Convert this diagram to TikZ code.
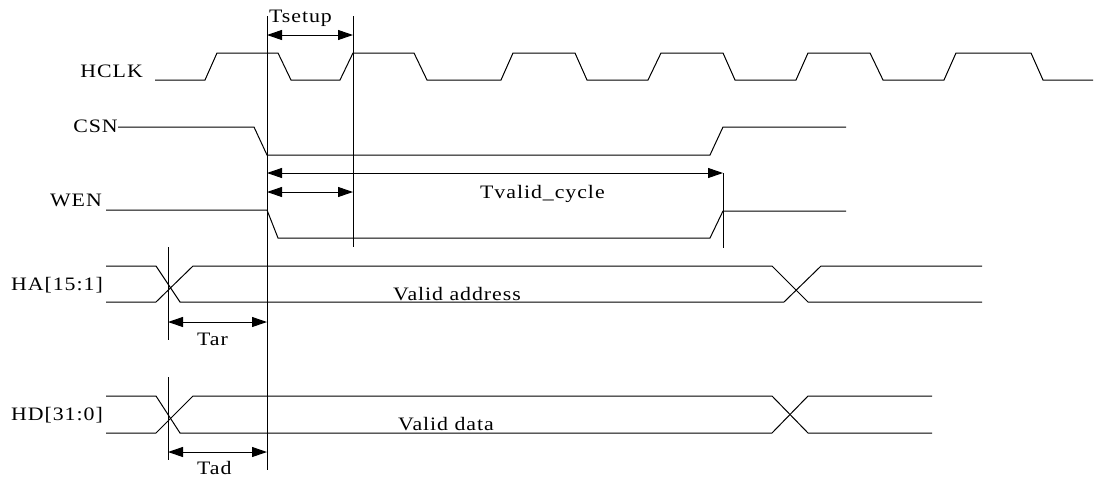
\documentclass[tikz,border=0pt]{standalone}
\usepackage{fontspec}
\setmainfont{Liberation Serif}[LetterSpace=5, FakeStretch=1.15]
\usetikzlibrary{arrows.meta, positioning}

\tikzstyle{Signal} = [line width=1pt, line join=miter]
\tikzstyle{Marker} = [line width=1pt]
\tikzstyle{Span} = [
line width=1pt,
{Triangle[length=15pt,width=10pt]}-{Triangle[length=15pt,width=10pt]}]
\tikzstyle{Name} = [font=\fontsize{19}{21}\selectfont, inner sep=0pt]

\begin{document}
\begin{tikzpicture}[x=1pt, y=-1pt]
    \useasboundingbox (0,0) rectangle (1094,480);

    % signal names
    \node[Name, anchor=base east] (hclk) at (143,77) {HCLK};
    \node[Name, anchor=base east] (csn) at (118,132) {CSN};
    \node[Name, anchor=base east] (wen) at (102,206) {WEN};
    \node[Name, anchor=base east] (ha) at (103,290) {HA[15:1]};
    \node[Name, anchor=base east] (hd) at (103,420) {HD[31:0]};

    % waveforms
    \draw[Signal] (155,80) -- (205,80) -- (217,53) -- (278,53) -- (291,80)
        -- (340,80) -- (353,53) -- (414,53) -- (427,80) -- (501,80)
        -- (513,53) -- (575,53) -- (587,80) -- (648,80) -- (661,53)
        -- (723,53) -- (735,80) -- (796,80) -- (808,53) -- (870,53)
        -- (883,80) -- (944,80) -- (956,53) -- (1031,53) -- (1043,80)
        -- (1093,80);
    \draw[Signal] (118,127) -- (254,127) -- (267,155) -- (710,155)
        -- (723,127) -- (846,127);
    \draw[Signal] (106,210) -- (267,210) -- (278,238) -- (710,238)
        -- (723,211) -- (846,211);
    \draw[Signal] (106,266) -- (156,266) -- (180,302) -- (784,302)
        -- (821,266) -- (982,266);
    \draw[Signal] (106,302) -- (156,302) -- (193,266) -- (772,266)
        -- (808,302) -- (982,302);
    \draw[Signal] (106,396) -- (156,396) -- (180,433) -- (772,433)
        -- (808,396) -- (932,396);
    \draw[Signal] (106,433) -- (156,433) -- (193,396) -- (772,396)
        -- (808,433) -- (932,433);

    % marker lines
    \coordinate (mainTop) at (267,16);
    \coordinate (mainBot) at (267,470);
    \coordinate (edgeTop) at (353,16);
    \coordinate (edgeBot) at (353,247);
    \coordinate (endTop) at (723,173);
    \coordinate (endBot) at (723,248);
    \coordinate (haTop) at (168,247);
    \coordinate (haBot) at (168,340);
    \coordinate (hdTop) at (168,377);
    \coordinate (hdBot) at (168,460);
    \draw[Marker] (mainTop) -- (mainBot);
    \draw[Marker] (edgeTop) -- (edgeBot);
    \draw[Marker] (endTop) -- (endBot);
    \draw[Marker] (haTop) -- (haBot);
    \draw[Marker] (hdTop) -- (hdBot);

    % timing spans
    \coordinate (setupL) at (267,35);
    \coordinate (setupR) at (353,35);
    \coordinate (cycleL) at (267,173);
    \coordinate (cycleR) at (723,173);
    \coordinate (wenL) at (267,192);
    \coordinate (wenR) at (353,192);
    \coordinate (tarL) at (168,322);
    \coordinate (tarR) at (267,322);
    \coordinate (tadL) at (168,452);
    \coordinate (tadR) at (267,452);
    \draw[Span] (setupL) -- (setupR);
    \draw[Span] (cycleL) -- (cycleR);
    \draw[Span] (wenL) -- (wenR);
    \draw[Span] (tarL) -- (tarR);
    \draw[Span] (tadL) -- (tadR);

    % labels
    \node[Name, anchor=base west] (tsetup) at (269,22) {Tsetup};
    \node[Name, anchor=base west] (tvalid) at (480,198) {Tvalid\_cycle};
    \node[Name, anchor=base west] (vaddr) at (393,300) {Valid address};
    \node[Name, anchor=base west] (vdata) at (398,430) {Valid data};
    \node[Name, anchor=base west] (tar) at (197,345) {Tar};
    \node[Name, anchor=base west] (tad) at (197,474) {Tad};
\end{tikzpicture}
\end{document}
